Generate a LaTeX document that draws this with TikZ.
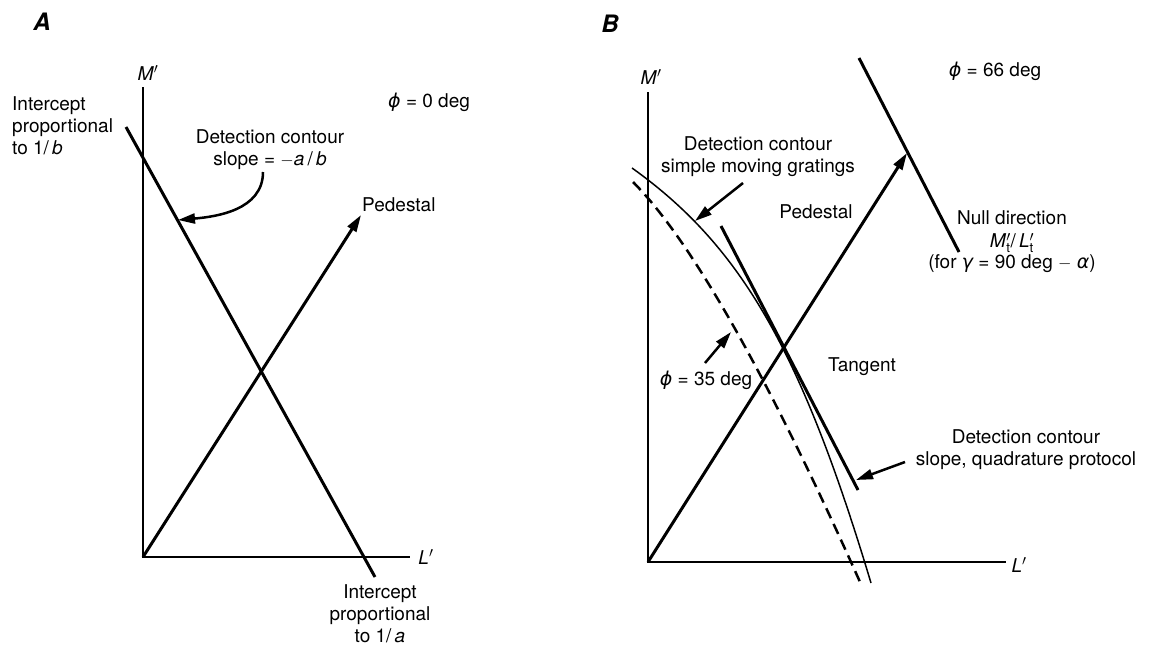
\documentclass[tikz,border=0pt]{standalone}
\usepackage{fontspec}
\setmainfont{TeX Gyre Heros}
\newfontfamily\grk{DejaVu Sans}
\newcommand{\phiv}{{\grk\itshape ϕ}}
\usetikzlibrary{arrows.meta}

\begin{document}
\begin{tikzpicture}[x=1pt, y=-1pt, >={Triangle[length=17pt,width=10pt]},
    font=\fontsize{19}{22}\selectfont]
    \tikzset{axis/.style={line width=2pt},
        heavy/.style={line width=3pt},
        fineline/.style={line width=1.5pt},
        pointer/.style={line width=2.5pt, ->},
        lbl/.style={inner sep=0pt, align=center},
        panel/.style={inner sep=0pt, font=\fontsize{24}{26}\selectfont\bfseries\itshape}}
    \useasboundingbox (0,0) rectangle (1150,645);

    % panel A
    \node[panel] (labA) at (42,22) {A};
    \coordinate (mA) at (143,87);
    \coordinate (oA) at (143,557);
    \coordinate (lA) at (410,557);
    \draw[axis] (mA) -- (oA) -- (lA);
    \node[lbl] (mAlbl) at (148,73) {\textit{M}$'$};
    \node[lbl] (lAlbl) at (426,557) {\textit{L}$'$};
    \coordinate (cAtop) at (126,127);
    \coordinate (cAbot) at (375,577);
    \draw[heavy] (cAtop) -- (cAbot);
    \coordinate (pA) at (361,215);
    \draw[heavy,->] (oA) -- (pA);
    \node[lbl,anchor=west] (phiA) at (388,102) {\phiv{} = 0 deg};
    \node[lbl,align=left,anchor=west] (icptb) at (12,126) {Intercept\\proportional\\to 1/\,\textit{b}};
    \node[lbl] (detA) at (270,150) {Detection contour\\slope = $-$\textit{a}\,/\,\textit{b}};
    \coordinate (detAfrom) at (263,172);
    \coordinate (detAto) at (178,220);
    \draw[pointer] (detAfrom) to[out=-90,in=5] (detAto);
    \node[lbl,anchor=west] (pedA) at (362,205) {Pedestal};
    \node[lbl] (icpta) at (380,614) {Intercept\\proportional\\to 1/\,\textit{a}};

    % panel B
    \node[panel] (labB) at (610,24) {B};
    \coordinate (mB) at (648,92);
    \coordinate (oB) at (648,562);
    \coordinate (lB) at (1006,562);
    \draw[axis] (mB) -- (oB) -- (lB);
    \node[lbl] (mBlbl) at (651,77) {\textit{M}$'$};
    \node[lbl] (lBlbl) at (1019,565) {\textit{L}$'$};
    \coordinate (nullTop) at (859,58);
    \coordinate (nullBot) at (959,252);
    \draw[heavy] (nullTop) -- (nullBot);
    \coordinate (pB) at (907,153);
    \draw[heavy,->] (oB) -- (pB);
    \coordinate (tanTop) at (721,226);
    \coordinate (tanBot) at (858,490);
    \draw[heavy] (tanTop) -- (tanBot);
    % contours
    \coordinate (simTop) at (632,168);
    \coordinate (simBot) at (871,583);
    \draw[fineline] (simTop) .. controls (741,246) and (801,350) .. (simBot);
    \coordinate (dshTop) at (633,182);
    \coordinate (dshBot) at (860,582);
    \draw[line width=2.5pt, dash pattern=on 11pt off 6.3pt] (dshTop) .. controls (690,239) and (766,372) .. (dshBot);
    \node[lbl] (phiB) at (995,71) {\phiv{} = 66 deg};
    \node[lbl] (detB) at (758,157) {Detection contour\\simple moving gratings};
    \coordinate (detBfrom) at (743,183);
    \coordinate (detBto) at (695,221);
    \draw[pointer] (detBfrom) -- (detBto);
    \node[lbl] (pedB) at (816,212) {Pedestal};
    \node[lbl] (nullB) at (1012,242)
        {Null direction\\[1pt]\textit{M}$'_{\mathrm{t}}$/\,\textit{L}$'_{\mathrm{t}}$\\[-1pt](for {\grk\itshape γ} = 90 deg $-$ {\grk\itshape α})};
    \node[lbl] (phiC) at (706,380) {\phiv{} = 35 deg};
    \coordinate (phiCfrom) at (705,363);
    \coordinate (phiCto) at (731,332);
    \draw[pointer] (phiCfrom) -- (phiCto);
    \node[lbl] (tanB) at (862,367) {Tangent};
    \node[lbl] (quadB) at (1026,450) {Detection contour\\slope, quadrature protocol};
    \coordinate (quadfrom) at (905,462);
    \coordinate (quadto) at (856,480);
    \draw[pointer] (quadfrom) -- (quadto);
\end{tikzpicture}
\end{document}
